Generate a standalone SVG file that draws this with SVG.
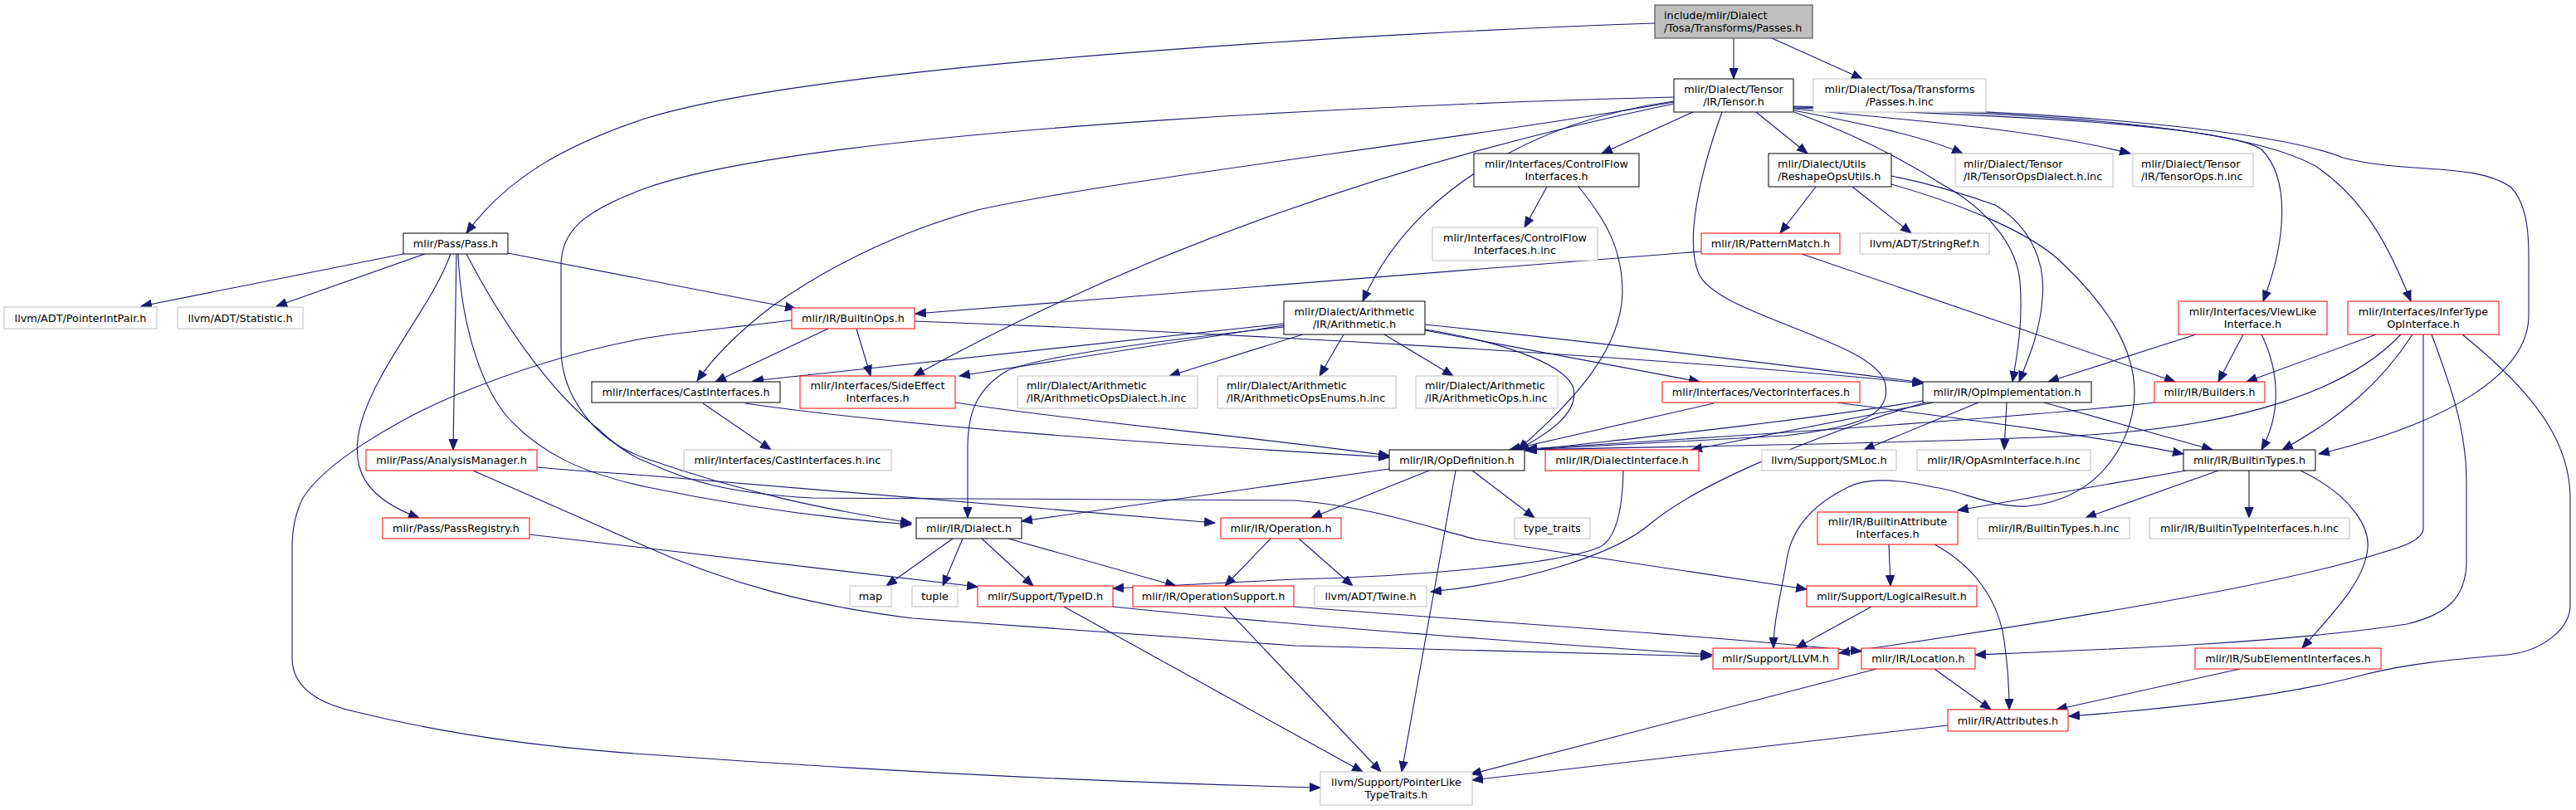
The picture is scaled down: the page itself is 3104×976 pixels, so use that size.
<svg xmlns="http://www.w3.org/2000/svg" width="3104" height="976" viewBox="0 0 3104 976">
<style>
.bg{fill:#fff}
rect{stroke-width:1}
.nb{fill:#fff;stroke:#000}
.nr{fill:#fff;stroke:#ff0000}
.ng{fill:#fff;stroke:#bfbfbf}
.root{fill:#bfbfbf;stroke:#404040}
text{font-family:"DejaVu Sans","Liberation Sans",sans-serif;font-size:12.8px;fill:#000;text-anchor:middle}
text.l{text-anchor:start}
.e path{fill:none;stroke:#191970;stroke-width:1.1;marker-end:url(#a)}
</style>
<defs>
<marker id="a" markerWidth="14" markerHeight="12" refX="13" refY="5.5" orient="auto" markerUnits="userSpaceOnUse">
<path d="M0.5,0.5 L13,5.5 L0.5,10.5 z" fill="#191970" stroke="#191970" stroke-width="1"/>
</marker>
</defs>
<rect class="bg" x="0" y="0" width="3104" height="976"/>
<g id="edges" class="e">
<path d="M1994,28 C1700,38 1000,75 780,142 C680,175 610,215 562,281"/>
<path d="M2089,46 L2089,95"/>
<path d="M2135,46 L2244,95"/>
<path d="M2017,117 C1800,122 1000,150 780,226 C700,255 676,280 676,320 L676,420 C676,470 710,530 780,553 C900,595 1000,615 1098,630"/>
<path d="M2017,123 C1750,170 1350,215 1178,253 C1080,280 1000,320 929,370 C890,400 860,430 840,459"/>
<path d="M2017,125 C1800,170 1450,260 1101,453"/>
<path d="M2017,122 C1850,145 1700,230 1642,363"/>
<path d="M2040,135 L1930,185"/>
<path d="M2116,135 L2178,185"/>
<path d="M2075,135 C2048,210 2030,290 2047,330 C2070,380 2255,410 2271,460 C2282,500 2240,515 2150,525 L1838,542"/>
<path d="M2161,133 C2250,150 2320,165 2365,185"/>
<path d="M2161,131 C2300,145 2450,155 2567,185"/>
<path d="M2161,130 C2400,138 2680,150 2725,180 C2760,215 2755,290 2727,363"/>
<path d="M2161,129 C2450,135 2700,150 2790,200 C2850,240 2880,300 2905,363"/>
<path d="M2161,128 C2500,132 2750,160 2823,190 C2900,210 2980,195 3025,225 C3050,250 3047,300 3047,330 L3047,380 C3047,450 2950,510 2794,547"/>
<path d="M2162,135 C2230,160 2290,190 2340,222 C2400,255 2431,300 2434,340 C2438,390 2430,430 2425,460"/>
<path d="M2279,212 C2320,220 2370,235 2404,247 C2450,275 2465,320 2461,360 C2458,400 2445,430 2433,460"/>
<path d="M2279,222 C2360,245 2450,280 2488,320 C2540,370 2572,420 2572,473 C2572,520 2540,600 2443,610 C2400,612 2360,590 2330,587 C2290,578 2250,575 2227,587 C2180,610 2157,640 2152,680 C2145,720 2137,750 2137,781"/>
<path d="M1864,225 L1837,274"/>
<path d="M1902,225 C1935,265 1955,300 1955,353 C1953,420 1900,480 1829,542"/>
<path d="M2188,225 L2145,281"/>
<path d="M2232,225 L2303,281"/>
<path d="M2050,303 L1103,378"/>
<path d="M2171,306 L2621,460"/>
<path d="M486,306 L170,369"/>
<path d="M512,306 L333,369"/>
<path d="M550,306 L546,542"/>
<path d="M543,306 C520,370 455,440 435,510 C420,565 440,600 505,624"/>
<path d="M552,306 C555,380 575,460 612,503 C650,545 700,570 780,587 C900,612 1000,625 1098,632"/>
<path d="M562,306 C600,380 660,470 721,517 C740,535 760,550 780,557 C830,580 880,595 979,600 L1560,603 C1650,610 1720,635 1779,650 L2177,710"/>
<path d="M612,305 L959,372"/>
<path d="M647,563 C700,568 740,570 780,573 L1464,630"/>
<path d="M570,567 L770,655 C880,705 980,730 1100,745 L1560,778 L2062,791"/>
<path d="M638,644 L1178,707"/>
<path d="M847,486 L929,542"/>
<path d="M898,486 C1100,515 1400,535 1674,551"/>
<path d="M1151,485 C1300,508 1500,525 1674,549"/>
<path d="M998,396 L862,460"/>
<path d="M1032,396 L1049,453"/>
<path d="M1102,387 C1500,402 2000,430 2317,462"/>
<path d="M954,386 C880,395 820,400 780,407 C680,425 600,455 547,477 C470,510 390,560 365,600 C355,620 352,640 352,660 L352,793 C352,820 370,845 430,858 C560,890 680,902 780,909 C1000,925 1300,942 1591,949"/>
<path d="M1547,390 L907,459"/>
<path d="M1547,392 L1156,453"/>
<path d="M1547,394 C1400,410 1250,430 1213,447 C1175,470 1166,500 1166,540 L1166,624"/>
<path d="M1570,403 L1409,453"/>
<path d="M1619,403 L1590,453"/>
<path d="M1668,403 L1751,453"/>
<path d="M1717,397 C1800,410 1880,435 1895,465 C1905,495 1870,520 1829,542"/>
<path d="M1717,398 L2048,460"/>
<path d="M1717,391 C1950,415 2150,440 2318,461"/>
<path d="M2065,486 L1819,542"/>
<path d="M2214,485 C2300,497 2500,520 2631,547"/>
<path d="M2317,483 C2150,510 1950,530 1838,543"/>
<path d="M2330,485 L2038,542"/>
<path d="M2384,485 L2246,542"/>
<path d="M2418,485 L2415,542"/>
<path d="M2463,485 L2666,542"/>
<path d="M2320,485 C2200,520 2050,580 1990,630 C1950,665 1850,700 1724,713"/>
<path d="M2596,485 C2450,502 2100,525 1839,541"/>
<path d="M2646,403 L2468,460"/>
<path d="M2703,403 L2673,460"/>
<path d="M2725,403 C2748,450 2748,500 2725,542"/>
<path d="M2863,403 L2707,460"/>
<path d="M2893,403 C2830,470 2700,515 2500,525 C2300,535 2000,538 1839,542"/>
<path d="M2907,403 C2870,460 2824,501 2750,542"/>
<path d="M2920,403 L2920,638 C2918,652 2890,660 2873,665 C2750,705 2500,745 2216,787"/>
<path d="M2930,403 C2955,470 2972,520 2972,580 L2972,680 C2970,720 2950,740 2900,752 C2750,775 2550,782 2380,789"/>
<path d="M2967,403 C3050,470 3097,530 3097,600 L3097,729 C3097,760 3060,785 3021,789 C2950,795 2900,800 2848,813 C2750,840 2600,855 2493,863"/>
<path d="M2634,567 L2359,615"/>
<path d="M2673,567 L2513,624"/>
<path d="M2710,567 L2710,624"/>
<path d="M2772,567 C2840,600 2855,640 2853,660 C2850,700 2810,740 2774,781"/>
<path d="M2276,656 L2278,706"/>
<path d="M2331,656 C2375,680 2410,720 2416,780 C2420,810 2421,830 2421,855"/>
<path d="M2255,731 L2164,781"/>
<path d="M2261,806 L1772,933"/>
<path d="M2331,806 L2399,855"/>
<path d="M2699,806 L2478,855"/>
<path d="M2347,874 L1774,940"/>
<path d="M1148,649 L1068,706"/>
<path d="M1160,649 L1136,706"/>
<path d="M1183,649 L1245,706"/>
<path d="M1215,649 L1417,706"/>
<path d="M1531,649 L1476,706"/>
<path d="M1565,649 L1630,706"/>
<path d="M1722,567 L1580,624"/>
<path d="M1674,565 C1500,590 1350,610 1231,628"/>
<path d="M1774,567 L1849,624"/>
<path d="M1754,567 L1689,930"/>
<path d="M1956,567 C1955,620 1945,650 1928,659 C1880,680 1700,695 1560,698 L1341,709"/>
<path d="M1341,731 C1600,758 1900,778 2063,789"/>
<path d="M1282,731 L1642,930"/>
<path d="M1559,731 C1800,750 2050,765 2243,785"/>
<path d="M1475,731 L1664,930"/>
</g>
<g id="root"><rect class="root" x="1994" y="6" width="190" height="40"/><text class="l" x="2005" y="22.5">include/mlir/Dialect</text><text class="l" x="2005" y="37.5">/Tosa/Transforms/Passes.h</text></g>
<g id="tensor"><rect class="nb" x="2017" y="95" width="144" height="40"/><text x="2089" y="111.5">mlir/Dialect/Tensor</text><text x="2089" y="126.5">/IR/Tensor.h</text></g>
<g id="passesinc"><rect class="ng" x="2185" y="95" width="208" height="40"/><text x="2289" y="111.5">mlir/Dialect/Tosa/Transforms</text><text x="2289" y="126.5">/Passes.h.inc</text></g>
<g id="cfi"><rect class="nb" x="1776" y="185" width="199" height="40"/><text x="1875.5" y="201.5">mlir/Interfaces/ControlFlow</text><text x="1875.5" y="216.5">Interfaces.h</text></g>
<g id="reshape"><rect class="nb" x="2131" y="185" width="148" height="40"/><text class="l" x="2142" y="201.5">mlir/Dialect/Utils</text><text class="l" x="2142" y="216.5">/ReshapeOpsUtils.h</text></g>
<g id="cfiinc"><rect class="ng" x="1726" y="274" width="199" height="40"/><text x="1825.5" y="290.5">mlir/Interfaces/ControlFlow</text><text x="1825.5" y="305.5">Interfaces.h.inc</text></g>
<g id="patternmatch"><rect class="nr" x="2050" y="281" width="167" height="25"/><text x="2133.5" y="298">mlir/IR/PatternMatch.h</text></g>
<g id="stringref"><rect class="ng" x="2241" y="281" width="156" height="25"/><text x="2319" y="298">llvm/ADT/StringRef.h</text></g>
<g id="tensoropsdialect"><rect class="ng" x="2356" y="185" width="190" height="40"/><text class="l" x="2366" y="201.5">mlir/Dialect/Tensor</text><text class="l" x="2366" y="216.5">/IR/TensorOpsDialect.h.inc</text></g>
<g id="tensorops"><rect class="ng" x="2570" y="185" width="145" height="40"/><text class="l" x="2580" y="201.5">mlir/Dialect/Tensor</text><text class="l" x="2580" y="216.5">/IR/TensorOps.h.inc</text></g>
<g id="pass"><rect class="nb" x="486" y="281" width="126" height="25"/><text x="549" y="298">mlir/Pass/Pass.h</text></g>
<g id="pointerintpair"><rect class="ng" x="5" y="370" width="184" height="26"/><text x="97" y="387.5">llvm/ADT/PointerIntPair.h</text></g>
<g id="statistic"><rect class="ng" x="214" y="370" width="151" height="26"/><text x="289.5" y="387.5">llvm/ADT/Statistic.h</text></g>
<g id="analysis"><rect class="nr" x="441" y="542" width="206" height="25"/><text x="544" y="559">mlir/Pass/AnalysisManager.h</text></g>
<g id="passreg"><rect class="nr" x="461" y="624" width="177" height="25"/><text x="549.5" y="641">mlir/Pass/PassRegistry.h</text></g>
<g id="cast"><rect class="nb" x="713" y="460" width="227" height="25"/><text x="826.5" y="477">mlir/Interfaces/CastInterfaces.h</text></g>
<g id="builtinops"><rect class="nr" x="954" y="371" width="148" height="25"/><text x="1028" y="388">mlir/IR/BuiltinOps.h</text></g>
<g id="sideeffect"><rect class="nr" x="964" y="453" width="187" height="39"/><text x="1057.5" y="469">mlir/Interfaces/SideEffect</text><text x="1057.5" y="484">Interfaces.h</text></g>
<g id="arithdialect"><rect class="ng" x="1226" y="453" width="217" height="39"/><text class="l" x="1237" y="469">mlir/Dialect/Arithmetic</text><text class="l" x="1237" y="484">/IR/ArithmeticOpsDialect.h.inc</text></g>
<g id="arithenums"><rect class="ng" x="1467" y="453" width="215" height="39"/><text class="l" x="1478" y="469">mlir/Dialect/Arithmetic</text><text class="l" x="1478" y="484">/IR/ArithmeticOpsEnums.h.inc</text></g>
<g id="castinc"><rect class="ng" x="824" y="542" width="250" height="25"/><text x="949" y="559">mlir/Interfaces/CastInterfaces.h.inc</text></g>
<g id="dialect"><rect class="nb" x="1104" y="624" width="127" height="25"/><text x="1167.5" y="641">mlir/IR/Dialect.h</text></g>
<g id="operation"><rect class="nr" x="1471" y="624" width="145" height="25"/><text x="1543.5" y="641">mlir/IR/Operation.h</text></g>
<g id="arith"><rect class="nb" x="1547" y="363" width="170" height="40"/><text x="1632" y="379.5">mlir/Dialect/Arithmetic</text><text x="1632" y="394.5">/IR/Arithmetic.h</text></g>
<g id="arithops"><rect class="ng" x="1706" y="453" width="171" height="39"/><text class="l" x="1717" y="469">mlir/Dialect/Arithmetic</text><text class="l" x="1717" y="484">/IR/ArithmeticOps.h.inc</text></g>
<g id="vector"><rect class="nr" x="2003" y="460" width="238" height="25"/><text x="2122" y="477">mlir/Interfaces/VectorInterfaces.h</text></g>
<g id="opimpl"><rect class="nb" x="2317" y="460" width="203" height="25"/><text x="2418.5" y="477">mlir/IR/OpImplementation.h</text></g>
<g id="opdef"><rect class="nb" x="1674" y="542" width="163" height="25"/><text x="1755.5" y="559">mlir/IR/OpDefinition.h</text></g>
<g id="dialectiface"><rect class="nr" x="1862" y="542" width="185" height="25"/><text x="1954.5" y="559">mlir/IR/DialectInterface.h</text></g>
<g id="smloc"><rect class="ng" x="2123" y="542" width="162" height="25"/><text x="2204" y="559">llvm/Support/SMLoc.h</text></g>
<g id="opasm"><rect class="ng" x="2310" y="542" width="209" height="25"/><text x="2414.5" y="559">mlir/IR/OpAsmInterface.h.inc</text></g>
<g id="typetraits"><rect class="ng" x="1825" y="624" width="91" height="25"/><text x="1870.5" y="641">type_traits</text></g>
<g id="battr"><rect class="nr" x="2190" y="617" width="169" height="39"/><text x="2274.5" y="633">mlir/IR/BuiltinAttribute</text><text x="2274.5" y="648">Interfaces.h</text></g>
<g id="viewlike"><rect class="nr" x="2625" y="363" width="179" height="40"/><text x="2714.5" y="379.5">mlir/Interfaces/ViewLike</text><text x="2714.5" y="394.5">Interface.h</text></g>
<g id="infertype"><rect class="nr" x="2829" y="363" width="182" height="40"/><text x="2920" y="379.5">mlir/Interfaces/InferType</text><text x="2920" y="394.5">OpInterface.h</text></g>
<g id="builders"><rect class="nr" x="2596" y="460" width="133" height="25"/><text x="2662.5" y="477">mlir/IR/Builders.h</text></g>
<g id="builtintypes"><rect class="nb" x="2631" y="542" width="159" height="25"/><text x="2710.5" y="559">mlir/IR/BuiltinTypes.h</text></g>
<g id="builtintypesinc"><rect class="ng" x="2383" y="624" width="183" height="25"/><text x="2474.5" y="641">mlir/IR/BuiltinTypes.h.inc</text></g>
<g id="btiinc"><rect class="ng" x="2590" y="624" width="241" height="25"/><text x="2710.5" y="641">mlir/IR/BuiltinTypeInterfaces.h.inc</text></g>
<g id="map"><rect class="ng" x="1024" y="706" width="50" height="25"/><text x="1049" y="723">map</text></g>
<g id="tuple"><rect class="ng" x="1099" y="706" width="55" height="25"/><text x="1126.5" y="723">tuple</text></g>
<g id="typeid"><rect class="nr" x="1178" y="706" width="163" height="25"/><text x="1259.5" y="723">mlir/Support/TypeID.h</text></g>
<g id="opsupport"><rect class="nr" x="1365" y="706" width="194" height="25"/><text x="1462" y="723">mlir/IR/OperationSupport.h</text></g>
<g id="twine"><rect class="ng" x="1584" y="706" width="135" height="25"/><text x="1651.5" y="723">llvm/ADT/Twine.h</text></g>
<g id="logicalresult"><rect class="nr" x="2177" y="706" width="205" height="25"/><text x="2279.5" y="723">mlir/Support/LogicalResult.h</text></g>
<g id="llvm"><rect class="nr" x="2064" y="781" width="151" height="25"/><text x="2139.5" y="798">mlir/Support/LLVM.h</text></g>
<g id="location"><rect class="nr" x="2243" y="781" width="137" height="25"/><text x="2311.5" y="798">mlir/IR/Location.h</text></g>
<g id="ptrlike"><rect class="ng" x="1591" y="930" width="183" height="40"/><text x="1682.5" y="946.5">llvm/Support/PointerLike</text><text x="1682.5" y="961.5">TypeTraits.h</text></g>
<g id="subelem"><rect class="nr" x="2645" y="781" width="224" height="25"/><text x="2757" y="798">mlir/IR/SubElementInterfaces.h</text></g>
<g id="attributes"><rect class="nr" x="2347" y="855" width="145" height="26"/><text x="2419.5" y="872.5">mlir/IR/Attributes.h</text></g>
</svg>
